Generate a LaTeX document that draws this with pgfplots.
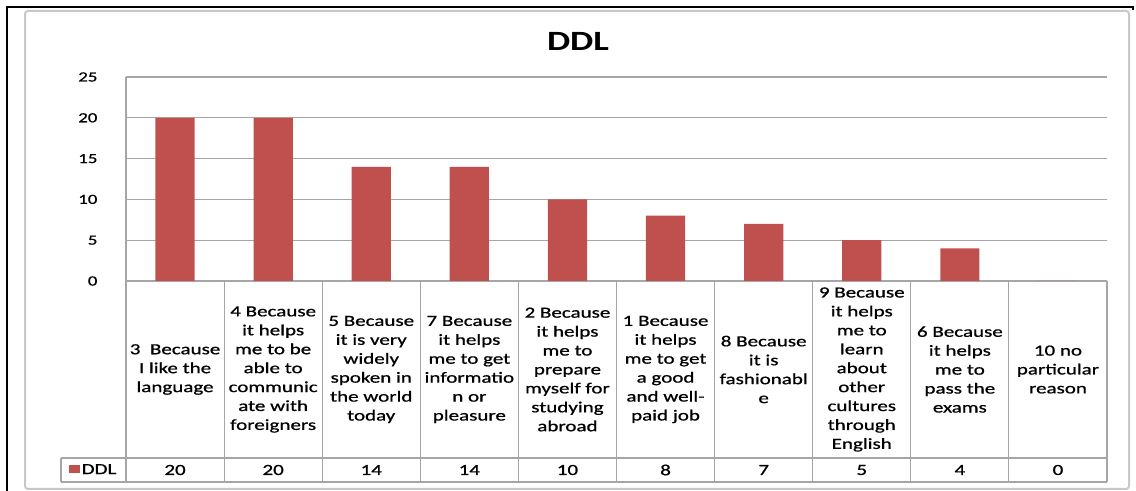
\documentclass[border=0pt]{standalone}
\usepackage{fontspec}
\setmainfont{Carlito}
\newfontfamily\lbl{Carlito}[BoldFont=Carlito, BoldFeatures={FakeBold=0.7}]
\usepackage{pgfplots}
\usepackage{pgfplotstable}
\pgfplotsset{compat=1.18}
\definecolor{ddlred}{HTML}{C0504D}
\definecolor{gridgrey}{HTML}{A6A6A6}
\definecolor{framegrey}{HTML}{C8C8C8}

% reasons, in the order of the chart, and number of answers
\pgfplotstableread{
x v
0 20
1 20
2 14
3 14
4 10
5 8
6 7
7 5
8 4
9 0
}\ddl

\begin{document}
\begin{tikzpicture}[x=1bp,y=1bp]
\path[use as bounding box] (0,0) rectangle (1136,491);
\draw[framegrey, line width=2bp, rounded corners=3bp] (25,2) rectangle (1129,480);
\draw[black, line width=1.8bp] (7,0) -- (7,484) -- (1133,484) -- (1133,481);

\node[font=\fontsize{28}{32}\selectfont\bfseries, xscale=1.32] at (578,450) {DDL};

\begin{axis}[
  at={(126bp,210bp)}, anchor=south west,
  scale only axis, width=981bp, height=204bp,
  xmin=-0.5, xmax=9.5, ymin=0, ymax=25,
  ytick={0,5,...,25}, xtick={0,...,9},
  xticklabels={
    {3\ \ Because\\I like the\\language},
    {4 Because\\it helps\\me to be\\able to\\communic\\ate with\\foreigners},
    {5 Because\\it is very\\widely\\spoken in\\the world\\today},
    {7 Because\\it helps\\me to get\\informatio\\n or\\pleasure},
    {2 Because\\it helps\\me to\\prepare\\myself for\\studying\\abroad},
    {1 Because\\it helps\\me to get\\a good\\and well-\\paid job},
    {8 Because\\it is\\fashionabl\\e},
    {9 Because\\it helps\\me to\\learn\\about\\other\\cultures\\through\\English},
    {6 Because\\it helps\\me to\\pass the\\exams},
    {10 no\\particular\\reason}},
  xticklabel style={anchor=center, yshift=-88.5bp, align=center, xscale=1.36,
    inner sep=0pt, font=\lbl\bfseries\fontsize{15.5}{19}\selectfont},
  extra x ticks={0,...,9},
  extra x tick labels={20,20,14,14,10,8,7,5,4,0},
  extra x tick style={xticklabel style={yshift=-100.5bp}, grid=none},
  yticklabel style={font=\lbl\bfseries\fontsize{14}{16}\selectfont, xscale=1.35,
    inner sep=0pt, anchor=east, xshift=-21bp},
  /pgf/number format/assume math mode=true,
  ymajorgrids, xmajorgrids=false,
  major grid style={gridgrey, line width=1.1bp},
  axis x line*=bottom, axis y line*=left,
  axis line style={gridgrey, line width=1.1bp, -},
  major tick length=0pt,
  clip=false,
  legend style={at={(-0.0331,-0.926)}, anchor=center, draw=none, fill=none,
    inner sep=0pt, font=\lbl\bfseries\fontsize{15.5}{19}\selectfont,
    nodes={inner sep=1.5bp}},
]
\addplot[ybar, fill=ddlred, draw=none, bar width=0.4,
  legend image code/.code={\fill[ddlred] (0bp,-3.5bp) rectangle (11bp,4.5bp);}]
  table[x=x, y=v] {\ddl};
\addlegendentry{\scalebox{1.36}[1]{DDL}}
\end{axis}

\begin{scope}[gridgrey, line width=1.1bp]
\foreach \i in {0,...,10} \draw ({126+98.1*\i},210) -- ({126+98.1*\i},9);
\draw (61,33) -- (1107,33);
\draw (61,9) -- (1107,9);
\draw (61,33) -- (61,9);
\end{scope}
\end{tikzpicture}
\end{document}
